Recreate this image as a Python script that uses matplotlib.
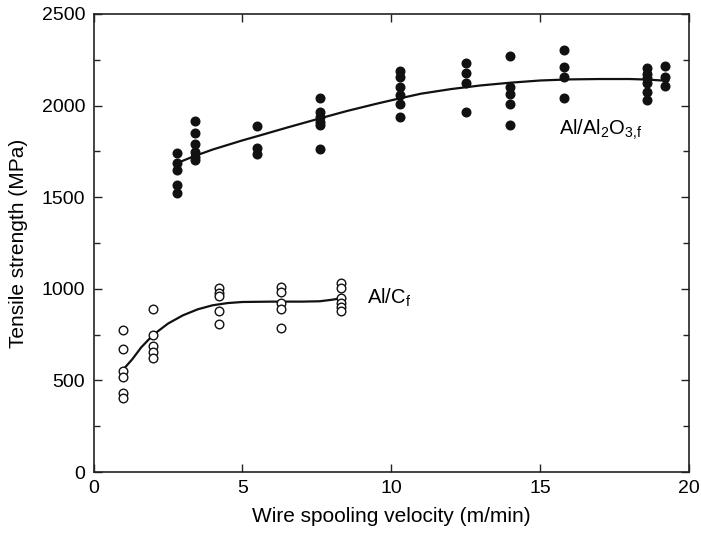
import matplotlib.pyplot as plt
from matplotlib.ticker import MultipleLocator

plt.rcParams['font.family'] = ['Liberation Sans', 'DejaVu Sans']
plt.rcParams['mathtext.fontset'] = 'custom'
plt.rcParams['mathtext.rm'] = 'Liberation Sans'
plt.rcParams['mathtext.it'] = 'Liberation Sans:italic'

# Al/Al2O3,f  (filled dots)
alo_x = [2.8, 2.8, 2.8, 2.8, 2.8,
         3.4, 3.4, 3.4, 3.4, 3.4, 3.4,
         5.5, 5.5, 5.5,
         7.6, 7.6, 7.6, 7.6, 7.6, 7.6,
         10.3, 10.3, 10.3, 10.3, 10.3, 10.3,
         12.5, 12.5, 12.5, 12.5,
         14.0, 14.0, 14.0, 14.0, 14.0,
         15.8, 15.8, 15.8, 15.8,
         18.6, 18.6, 18.6, 18.6, 18.6, 18.6,
         19.2, 19.2, 19.2]
alo_y = [1740, 1685, 1648, 1567, 1521,
         1915, 1850, 1790, 1745, 1720, 1703,
         1887, 1767, 1738,
         2040, 1965, 1938, 1912, 1894, 1762,
         2190, 2154, 2103, 2058, 2009, 1936,
         2231, 2176, 2125, 1967,
         2271, 2103, 2061, 2007, 1894,
         2303, 2209, 2154, 2040,
         2205, 2175, 2150, 2125, 2076, 2031,
         2216, 2154, 2107]

# fitted trend
alo_fit_x = [2.8, 3.4, 4.0, 5.0, 5.5, 6.5, 7.6, 8.5, 9.5, 10.3, 11.0, 12.0,
             13.0, 14.0, 15.0, 16.0, 17.0, 18.0, 18.6, 19.3]
alo_fit_y = [1686, 1725, 1760, 1810, 1833, 1880, 1930, 1970, 2010, 2040, 2065,
             2090, 2110, 2125, 2137, 2143, 2145, 2145, 2142, 2135]

# Al/Cf  (open circles)
alc_x = [1.0, 1.0, 1.0, 1.0, 1.0, 1.0,
         2.0, 2.0, 2.0, 2.0, 2.0,
         4.2, 4.2, 4.2, 4.2, 4.2,
         6.3, 6.3, 6.3, 6.3, 6.3,
         8.3, 8.3, 8.3, 8.3, 8.3, 8.3]
alc_y = [775, 671, 551, 520, 433, 402,
         890, 748, 688, 657, 624,
         1003, 978, 959, 878, 808,
         1012, 984, 921, 888, 784,
         1030, 1003, 948, 924, 902, 877]

alc_fit_x = [1.0, 1.3, 1.6, 2.0, 2.5, 3.0, 3.5, 4.0, 4.5, 5.0, 6.0, 7.0, 7.6,
             8.0, 8.3]
alc_fit_y = [560, 615, 680, 748, 810, 855, 888, 910, 922, 928, 930, 930, 932,
             940, 948]

fig = plt.figure(figsize=(7.01, 5.36), dpi=100)
ax = fig.add_axes([0.1334, 0.1194, 0.8495, 0.8545])

ax.plot(alo_fit_x, alo_fit_y, color='#111111', lw=1.6)
ax.plot(alc_fit_x, alc_fit_y, color='#111111', lw=1.6)
ax.plot(alo_x, alo_y, 'o', ms=6.2, color='#111111', mec='#111111')
ax.plot(alc_x, alc_y, 'o', ms=6.2, mfc='white', mec='#111111', mew=1.0)

ax.text(15.65, 1870, r'Al/Al$_2$O$_{3{,}\mathrm{f}}$', fontsize=14.5,
        va='center', ha='left')
ax.text(9.2, 950, r'Al/C$_\mathrm{f}$', fontsize=14.5, va='center', ha='left')

ax.set_xlim(0, 20)
ax.set_ylim(0, 2500)
ax.xaxis.set_major_locator(MultipleLocator(5))
ax.yaxis.set_major_locator(MultipleLocator(500))
ax.yaxis.set_minor_locator(MultipleLocator(250))
ax.tick_params(which='both', direction='in', top=True, right=True,
               labelsize=14, width=1.0, color='#222222', pad=6)
ax.tick_params(which='major', length=6)
ax.tick_params(which='minor', length=4)
for s in ax.spines.values():
    s.set_linewidth(1.2)
    s.set_color('#222222')

ax.set_xlabel('Wire spooling velocity (m/min)', fontsize=15, labelpad=7)
ax.set_ylabel('Tensile strength (MPa)', fontsize=15, labelpad=10)

fig.savefig('out.png', dpi=100)
